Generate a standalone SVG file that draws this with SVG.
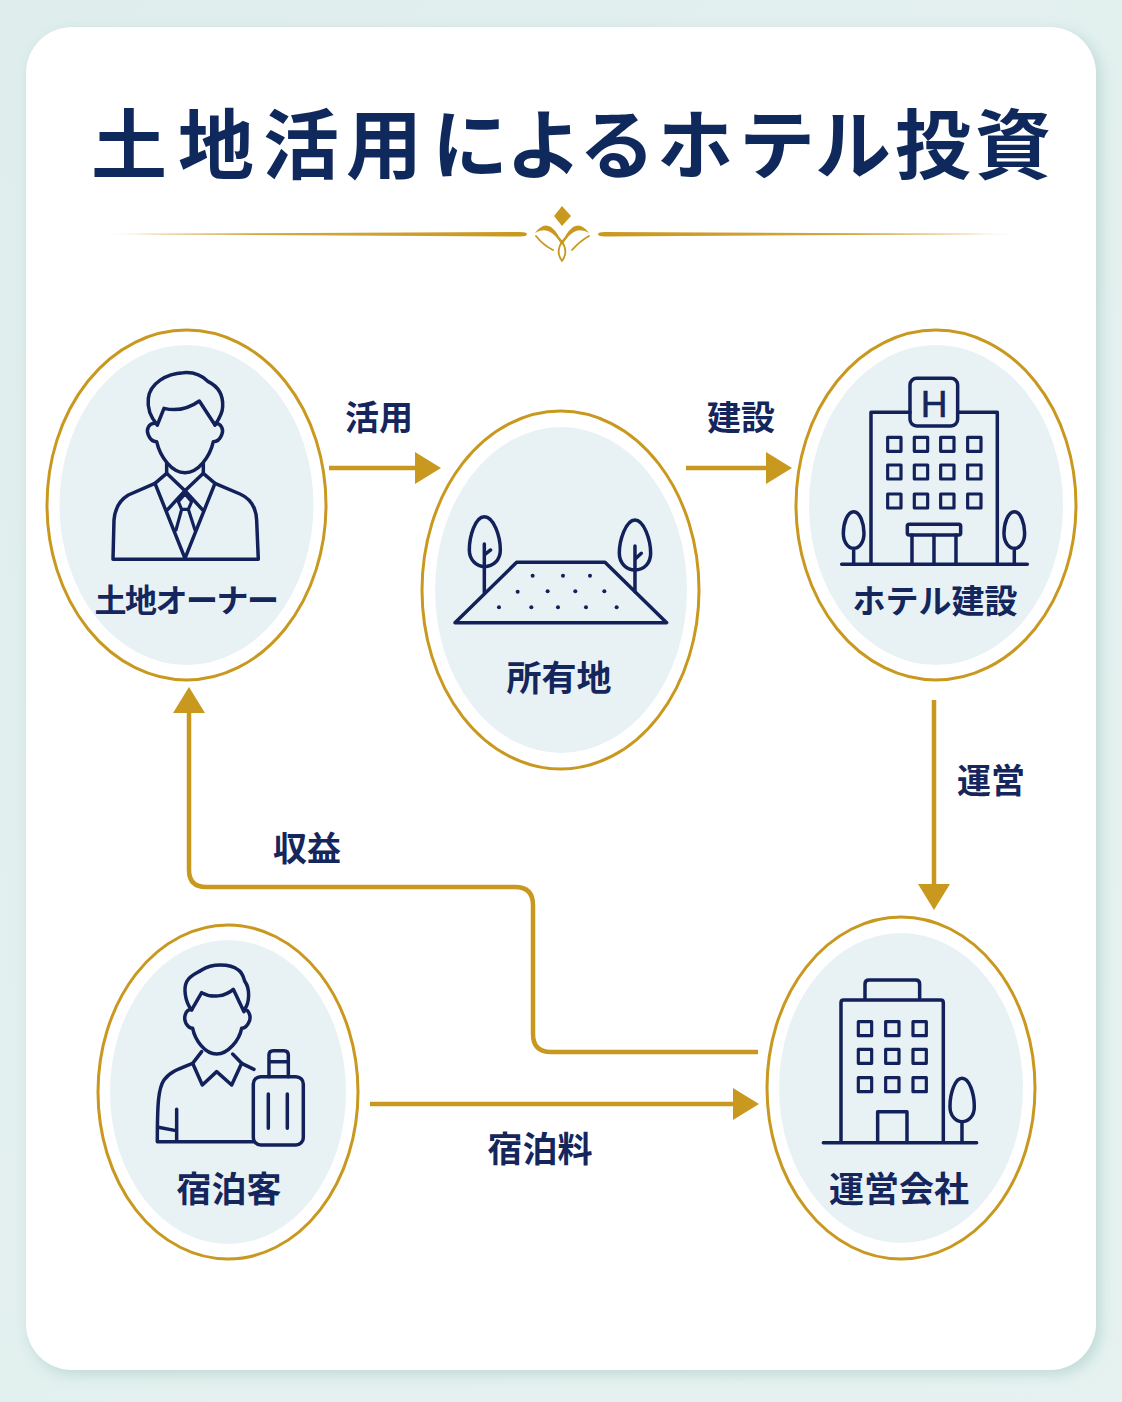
<svg xmlns="http://www.w3.org/2000/svg" width="1122" height="1402" viewBox="0 0 1122 1402">
<style>
text{font-family:"Noto Sans CJK JP","Noto Sans",sans-serif;font-weight:700;fill:#14265c;text-anchor:middle}
.lb{font-size:34px}
.ring{fill:#fff;stroke:#c9981f;stroke-width:3}
.in{fill:#e8f2f5}
.ic{fill:none;stroke:#12215a;stroke-width:10.500;stroke-linecap:round;stroke-linejoin:round}
.ic .t{stroke-width:9.500}
.dot{fill:#12215a;stroke:none}
.cn{fill:none;stroke:#c9981f;stroke-width:4.500}
.gold{fill:#c9981f}
</style>
<defs>
<linearGradient id="bg" x1="0" y1="0" x2="1" y2="1"><stop offset="0" stop-color="#dfeeed"/><stop offset="1" stop-color="#e6f2f0"/></linearGradient>
<linearGradient id="gl" gradientUnits="userSpaceOnUse" x1="103" y1="0" x2="527" y2="0"><stop offset="0" stop-color="#c9981f" stop-opacity=".1"/><stop offset=".12" stop-color="#c9981f" stop-opacity=".8"/><stop offset="1" stop-color="#c9981f"/></linearGradient>
<linearGradient id="gr" gradientUnits="userSpaceOnUse" x1="1020" y1="0" x2="598" y2="0"><stop offset="0" stop-color="#c9981f" stop-opacity=".1"/><stop offset=".12" stop-color="#c9981f" stop-opacity=".8"/><stop offset="1" stop-color="#c9981f"/></linearGradient>
<filter id="sh" x="-5%" y="-5%" width="110%" height="110%"><feGaussianBlur stdDeviation="7"/></filter>
<marker id="ah" markerUnits="userSpaceOnUse" markerWidth="27" markerHeight="34" viewBox="0 -17 27 34" refX="0" refY="0" orient="auto"><path d="M0,-16 L26,0 L0,16 Z" class="gold"/></marker>
</defs>
<rect width="1122" height="1402" fill="url(#bg)"/>
<rect x="29" y="31" width="1072" height="1344" rx="46" fill="#b5d4d0" opacity=".75" filter="url(#sh)"/>
<rect x="26" y="27" width="1070" height="1343" rx="46" fill="#fff"/>

<g id="title">
<text x="129 216 301 384 470 544 617 695 777 853 933 1013" y="173" font-size="76" style="text-anchor:middle;fill:#10295c">土地活用によるホテル投資</text>
<path d="M103,234 L520,232 Q527,232 527,234 Q527,236.500 520,236.500 Z" fill="url(#gl)"/>
<path d="M1020,234 L605,232 Q598,232 598,234 Q598,236.500 605,236.500 Z" fill="url(#gr)"/>
<path d="M562,206 L571,216 L562,226 L554,216 Z" class="gold"/>
<path d="M535,233 Q543,222 551,227 Q560,234 562,246 Q556,234 548,231 Q541,229 535,233 Z" class="gold"/>
<path d="M589,233 Q581,222 573,227 Q564,234 562,246 Q568,234 576,231 Q583,229 589,233 Z" class="gold"/>
<path d="M536,236 Q543,245 553,250 M589,236 Q580,241 572,250 M559,238 Q570,250 562,261 M565,238 Q554,250 562,261" fill="none" stroke="#c9981f" stroke-width="1.800" stroke-linecap="round"/>
</g>

<g id="connectors">
<path class="cn" d="M329,468 H415" marker-end="url(#ah)"/>
<path class="cn" d="M686,468 H766" marker-end="url(#ah)"/>
<path class="cn" d="M934,700 V884" marker-end="url(#ah)"/>
<path class="cn" d="M758,1052 H551 Q533,1052 533,1034 V905 Q533,887 515,887 H206 Q189,887 189,870 V713" marker-end="url(#ah)"/>
<path class="cn" d="M370,1104 H733" marker-end="url(#ah)"/>
<text class="lb" x="379" y="430">活用</text>
<text class="lb" x="741" y="430">建設</text>
<text class="lb" x="991" y="793">運営</text>
<text class="lb" x="307" y="861">収益</text>
<text class="lb" x="540" y="1162" font-size="35" style="font-size:35px">宿泊料</text>
</g>

<g id="owner">
<ellipse class="ring" cx="186.500" cy="505" rx="139.500" ry="175"/>
<ellipse class="in" cx="186.500" cy="505" rx="127" ry="160"/>
<g class="ic" transform="translate(40 320) scale(.3333)">
<path d="M352,315 C330,290 322,260 325,235 C330,190 380,160 430,158 C465,155 490,170 505,185 C535,200 550,225 548,260 C548,280 535,300 525,315"/>
<path d="M352,315 L372,265 C400,272 440,270 478,243 L525,315"/>
<path d="M345,310 C325,310 318,330 325,345 C332,362 345,365 350,365 C360,410 395,458 435,458 C475,458 510,410 520,365 C525,365 538,362 545,345 C552,330 545,310 525,310"/>
<path d="M380,430 L380,462 M490,430 L490,462"/>
<path d="M219,718 L655,718 L650,600 C648,560 630,535 600,522 L525,490 L490,460 L435,512 L380,460 L345,490 L265,525 C240,540 225,565 222,600 Z"/>
<path d="M345,490 L435,715 L525,490"/>
<path d="M380,572 L435,512 L490,572"/>
<path class="t" d="M415,545 L435,522 L455,545 L445,568 L425,568 Z M425,568 L408,630 M445,568 L465,630"/>
</g>
<text x="186" y="612" font-size="32" letter-spacing="-1.500">土地オーナー</text>
</g>

<g id="land">
<ellipse class="ring" cx="560.500" cy="590" rx="138.500" ry="179"/>
<ellipse class="in" cx="561" cy="590" rx="126" ry="163"/>
<g class="ic" transform="translate(420 400) scale(.3333)">
<path d="M105,668 L290,487 L555,487 L740,668 Z"/>
<path d="M193,350 C165,350 148,410 148,450 C148,480 170,500 193,500 C220,500 241,480 241,450 C241,410 222,350 193,350 Z"/>
<path d="M193,432 L193,578 M193,465 L212,450"/>
<path d="M645,360 C618,360 598,420 598,460 C598,490 620,510 645,510 C672,510 692,490 692,460 C692,420 672,360 645,360 Z"/>
<path d="M645,438 L645,575 M645,478 L664,460"/>
<g class="dot">
<circle cx="338" cy="527" r="6"/><circle cx="429" cy="527" r="6"/><circle cx="510" cy="527" r="6"/>
<circle cx="293" cy="575" r="6"/><circle cx="383" cy="574" r="6"/><circle cx="466" cy="574" r="6"/><circle cx="553" cy="574" r="6"/>
<circle cx="237" cy="622" r="6"/><circle cx="334" cy="622" r="6"/><circle cx="414" cy="622" r="6"/><circle cx="498" cy="622" r="6"/><circle cx="590" cy="622" r="6"/>
</g>
</g>
<text x="559" y="691" font-size="35">所有地</text>
</g>

<g id="hotel">
<ellipse class="ring" cx="936" cy="505" rx="140" ry="175"/>
<ellipse class="in" cx="936" cy="505" rx="127" ry="160"/>
<g class="ic" transform="translate(790 325) scale(.3333)">
<path d="M243,715 L243,262 L360,262 M503,262 L622,262 L622,715"/>
<rect x="360" y="160" width="143" height="143" rx="20"/>
<g class="t">
<rect x="293" y="337" width="40" height="42"/><rect x="373" y="337" width="40" height="42"/><rect x="452" y="337" width="40" height="42"/><rect x="533" y="337" width="40" height="42"/>
<rect x="293" y="420" width="40" height="42"/><rect x="373" y="420" width="40" height="42"/><rect x="452" y="420" width="40" height="42"/><rect x="533" y="420" width="40" height="42"/>
<rect x="293" y="507" width="40" height="42"/><rect x="373" y="507" width="40" height="42"/><rect x="452" y="507" width="40" height="42"/><rect x="533" y="507" width="40" height="42"/>
</g>
<rect x="352" y="598" width="160" height="32" rx="6"/>
<path d="M366,630 V715 M432,630 V715 M498,630 V715 M155,718 H712"/>
<path d="M191,560 C172,560 160,595 160,625 C160,652 175,670 191,670 C208,670 222,652 222,625 C222,595 210,560 191,560 Z M191,670 V715"/>
<path d="M673,560 C654,560 642,595 642,625 C642,652 657,670 673,670 C690,670 704,652 704,625 C704,595 692,560 673,560 Z M673,670 V715"/>
</g>
<text x="934" y="416.500" font-size="37" style="font-family:'Liberation Sans',sans-serif;font-weight:400;stroke:#14265c;stroke-width:.6">H</text>
<text x="935" y="613" font-size="33">ホテル建設</text>
</g>

<g id="guest">
<ellipse class="ring" cx="228" cy="1092" rx="130" ry="167"/>
<ellipse class="in" cx="228" cy="1092" rx="118" ry="152"/>
<g class="ic" transform="translate(90 920) scale(.3333)">
<path d="M305,270 C285,245 280,205 290,185 C300,165 320,160 335,150 C365,130 420,130 445,150 C460,160 460,175 465,185 C480,205 480,250 462,270"/>
<path d="M305,270 L335,218 C365,235 405,230 430,208 L462,275"/>
<path d="M303,268 C285,270 280,295 288,310 C295,322 305,325 308,325 C315,360 345,402 380,402 C415,402 448,360 455,325 C460,325 468,322 475,310 C485,295 480,270 462,268"/>
<path d="M335,395 L308,430 L337,495 L380,455 L425,495 L455,430 L428,402"/>
<path d="M308,430 C270,445 240,455 222,480 C205,505 202,550 202,665 L490,665 M455,430 L492,448"/>
<path d="M260,568 L260,660 M205,622 L258,632"/>
<rect x="490" y="470" width="150" height="205" rx="22"/>
<path d="M537,470 L537,405 Q537,392 550,392 L582,392 Q595,392 595,405 L595,470 M537,425 L595,425 M535,522 L535,625 M592,522 L592,625"/>
</g>
<text x="229" y="1202" font-size="35">宿泊客</text>
</g>

<g id="operator">
<ellipse class="ring" cx="901" cy="1088" rx="134" ry="171"/>
<ellipse class="in" cx="901" cy="1088" rx="122" ry="155"/>
<g class="ic" transform="translate(760 910) scale(.3333)">
<path d="M243,695 L243,278 Q243,270 251,270 L542,270 Q550,270 550,278 L550,695"/>
<path d="M315,265 L315,222 Q315,210 327,210 L467,210 Q479,210 479,222 L479,265"/>
<g class="t">
<rect x="295" y="335" width="40" height="42"/><rect x="377" y="335" width="40" height="42"/><rect x="459" y="335" width="40" height="42"/>
<rect x="295" y="418" width="40" height="42"/><rect x="377" y="418" width="40" height="42"/><rect x="459" y="418" width="40" height="42"/>
<rect x="295" y="503" width="40" height="42"/><rect x="377" y="503" width="40" height="42"/><rect x="459" y="503" width="40" height="42"/>
</g>
<path d="M353,695 L353,605 L441,605 L441,695 M190,698 H650"/>
<path d="M606,505 C585,505 570,550 570,590 C570,618 588,635 606,635 C626,635 643,618 643,590 C643,550 628,505 606,505 Z M606,635 V695"/>
</g>
<text x="899" y="1202" font-size="35">運営会社</text>
</g>
</svg>
